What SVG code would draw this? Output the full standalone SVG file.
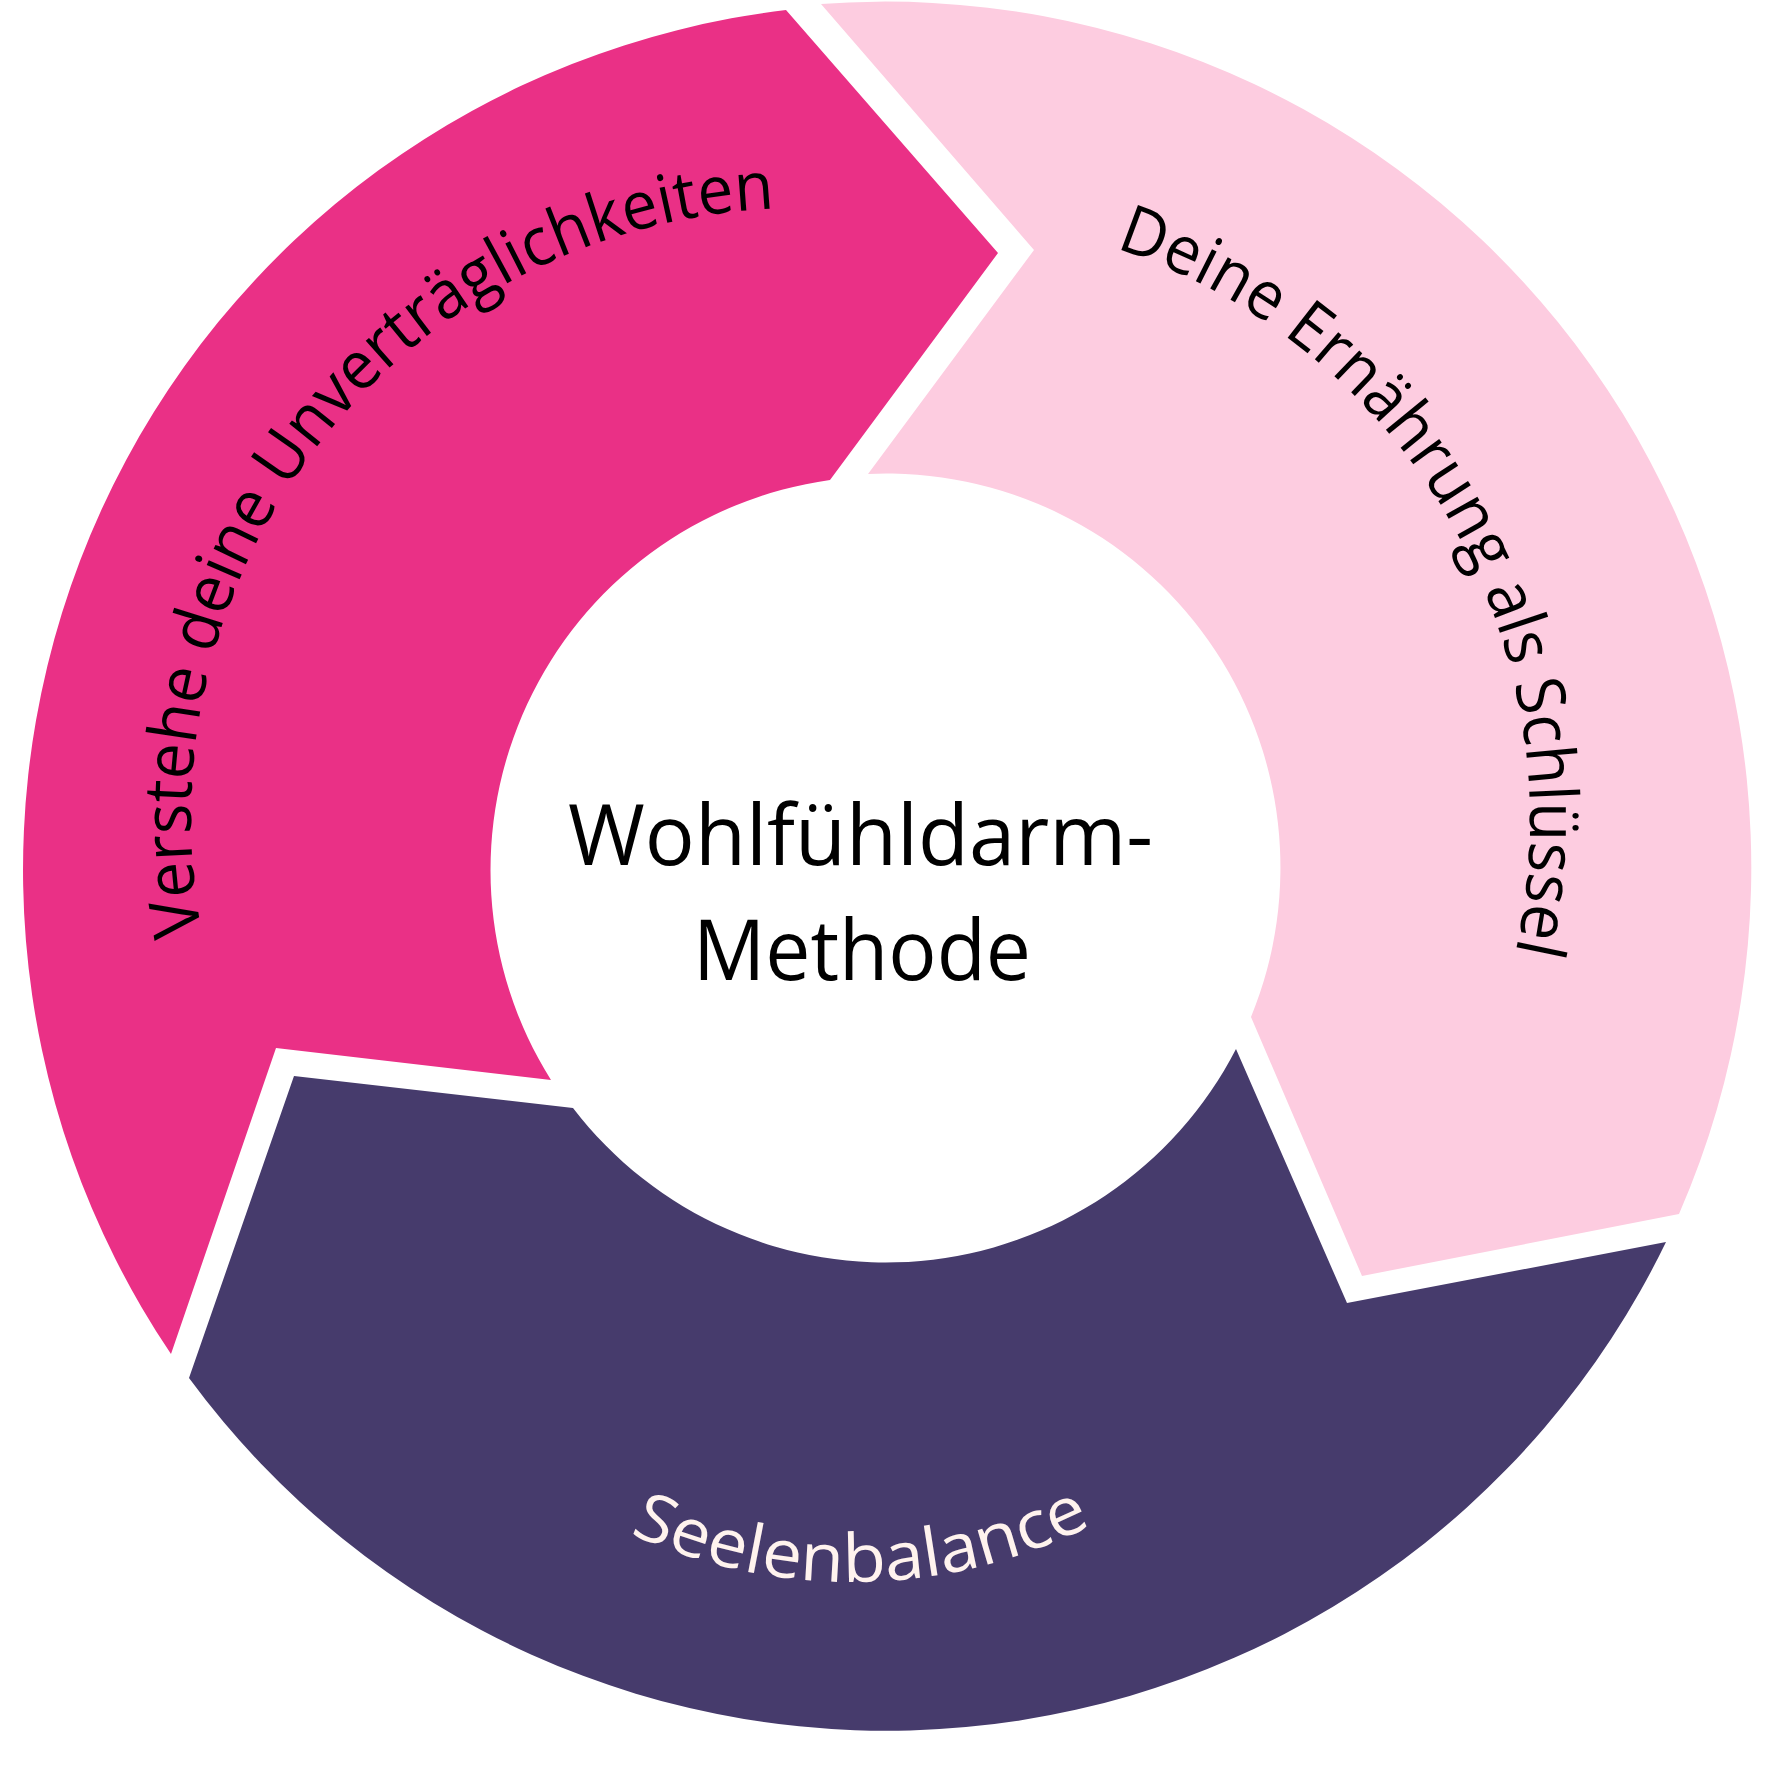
<svg xmlns="http://www.w3.org/2000/svg" width="1772" height="1772" viewBox="0 0 1772 1772">
  <style>
    .seg-a { fill: #EA3086; }
    .seg-b { fill: #FDCCE0; }
    .seg-c { fill: #463B6C; }
    .arc-label { font-family: "Open Sans", "Noto Sans", sans-serif; font-size: 67px; }
    .dark { fill: #000000; }
    .light { fill: #FFF3EE; }
    .title { font-family: "Open Sans", "Noto Sans", sans-serif; font-size: 84px; fill: #000000; text-anchor: middle; }
  </style>
  <defs>
    <path id="p1" d="M 202.0 933.4 A 610 610 0 0 1 778.1 208.4"/>
    <path id="p2" d="M 1115.3 248.2 A 603 603 0 0 1 1514.3 957.7"/>
    <path id="p3" d="M 629.7 1533.5 A 534 534 0 0 0 1093.6 1524.2"/>
  </defs>
  <rect x="0" y="0" width="1772" height="1772" fill="#FFFFFF"/>

  <g id="node-verstehe">
    <path class="seg-a" d="M 171 1354 A 866 866 0 0 1 786 10 L 998 253 L 830 480 A 394 394 0 0 0 551 1080 L 276 1048 Z"/>
    <text class="arc-label dark"><textPath href="#p1" textLength="1048" lengthAdjust="spacingAndGlyphs">Verstehe deine Unverträglichkeiten</textPath></text>
  </g>

  <g id="node-ernaehrung">
    <path class="seg-b" d="M 821 4 A 866 866 0 0 1 1679 1214 L 1362 1276 L 1251 1017 A 394 394 0 0 0 868 474 L 1034 250 Z"/>
    <text class="arc-label dark"><textPath href="#p2" textLength="888" lengthAdjust="spacingAndGlyphs">Deine Ernährung als Schlüssel</textPath></text>
  </g>

  <g id="node-seelenbalance">
    <path class="seg-c" d="M 1666 1242 A 866 866 0 0 1 189 1378 L 294 1076 L 573 1108 A 394 394 0 0 0 1236 1049 L 1347 1303 Z"/>
    <text class="arc-label light"><textPath href="#p3" textLength="478" lengthAdjust="spacingAndGlyphs">Seelenbalance</textPath></text>
  </g>

  <g id="node-center">
    <text class="title"><tspan x="860.5" y="865" textLength="585" lengthAdjust="spacingAndGlyphs">Wohlfühldarm-</tspan><tspan x="862" y="980" textLength="338" lengthAdjust="spacingAndGlyphs">Methode</tspan></text>
  </g>

  <g id="connectors"></g>
</svg>
